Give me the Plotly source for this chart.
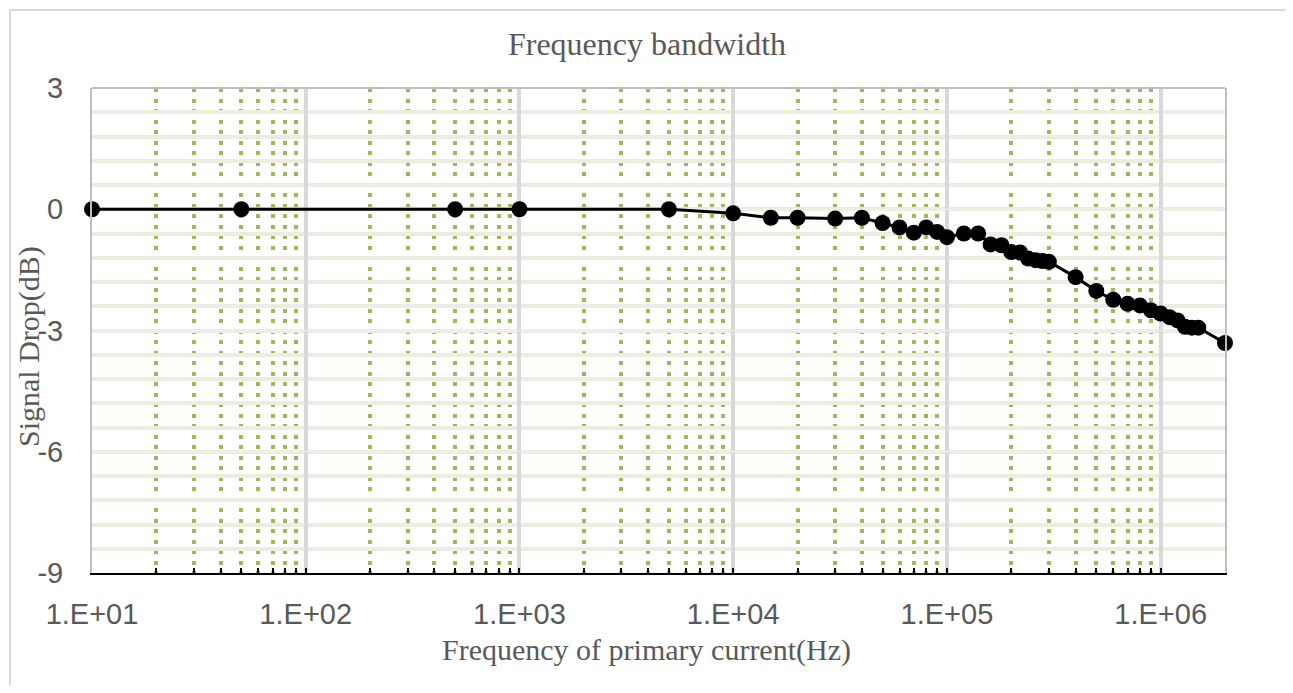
import plotly.graph_objects as go
import numpy as np

# ---- data ----
freq_hz = [10, 50, 500, 1000, 5000, 10000, 15000, 20000, 30000, 40000, 50000,
           60000, 70000, 80000, 90000, 100000, 120000, 140000, 160000, 180000,
           200000, 220000, 240000, 260000, 280000, 300000, 400000, 500000,
           600000, 700000, 800000, 900000, 1000000, 1100000, 1200000, 1300000,
           1400000, 1500000, 2000000]
drop_db = [0, 0, 0, 0, 0, -0.10, -0.21, -0.21, -0.23, -0.21, -0.34,
           -0.45, -0.58, -0.45, -0.56, -0.69, -0.60, -0.60, -0.87, -0.89,
           -1.06, -1.07, -1.22, -1.26, -1.28, -1.30, -1.68, -2.02,
           -2.24, -2.34, -2.38, -2.50, -2.58, -2.67, -2.75, -2.91,
           -2.93, -2.93, -3.31]

x_major_vals = [10, 100, 1000, 10000, 100000, 1000000]
x_major_text = ["1.E+01", "1.E+02", "1.E+03", "1.E+04", "1.E+05", "1.E+06"]
x_minor_vals = [m * d for d in [10, 100, 1000, 10000, 100000, 1000000]
                for m in range(2, 10) if m * d <= 2000000]
y_major_vals = [-9, -6, -3, 0, 3]
y_major_text = ["-9", "-6", "-3", "0", "3"]
y_minor_vals = [round(-9 + 0.6 * i, 1) for i in range(21)]

title_text = "Frequency bandwidth"
x_title = "Frequency of primary current(Hz)"
y_title = "Signal Drop(dB)"

# ---- layout (page coords; the page body adds an 8px offset) ----
OFF = 8
W, H = 1293 - OFF, 693 - 2 * OFF
PL, PR, PT, PB = 92, 1225, 88, 573          # plot area in page pixels
L, T = PL - OFF, PT - OFF
R = W - (PR - OFF)
B = H - (PB - OFF)
pw, ph = PR - PL, PB - PT
txt = "#595959"


def px(xp):
    return (xp - PL) / pw


def py(yp):
    return (PB - yp) / ph


fig = go.Figure()
fig.add_trace(go.Scatter(
    x=freq_hz, y=drop_db, mode="lines+markers",
    line=dict(color="black", width=3),
    marker=dict(color="black", size=16),
    showlegend=False, cliponaxis=False,
))

fig.update_layout(
    width=W, height=H,
    margin=dict(l=L, r=R, t=T, b=B),
    paper_bgcolor="white", plot_bgcolor="white",
    title=dict(text=title_text, x=px(647), xanchor="center", xref="paper",
               y=1 - 36 / H, yanchor="middle", yref="container",
               font=dict(family="Liberation Serif", size=32, color=txt)),
    xaxis=dict(
        type="log", range=[1, np.log10(2000000)],
        tickmode="array", tickvals=x_major_vals, ticktext=x_major_text,
        tickfont=dict(family="Liberation Sans", size=29, color=txt),
        ticks="inside", ticklen=5, tickwidth=2, tickcolor="black",
        showgrid=True, gridcolor="#D9D9D9", gridwidth=4,
        showline=True, linecolor="black", linewidth=2,
        ticklabelstandoff=14,
        zeroline=False,
        minor=dict(tickmode="array", tickvals=x_minor_vals,
                   ticks="inside", ticklen=5, tickwidth=2, tickcolor="black",
                   showgrid=True, gridcolor="#9BBB59", gridwidth=4,
                   griddash="4px,6.5px"),
    ),
    yaxis=dict(
        range=[-9, 3],
        tickmode="array", tickvals=y_major_vals, ticktext=y_major_text,
        tickfont=dict(family="Liberation Sans", size=29, color=txt),
        ticks="",
        showgrid=True, gridcolor="#F1F0EA", gridwidth=1,
        showline=True, linecolor="#BFBFBF", linewidth=2, mirror=True,
        ticklabelstandoff=21,
        zeroline=False,
        minor=dict(tickmode="array", tickvals=y_minor_vals, ticks="",
                   showgrid=True, gridcolor="#EEECE1", gridwidth=4),
    ),
)

# top border of plot area and outer chart border
fig.add_shape(type="line", xref="paper", yref="paper",
              x0=0, x1=1, y0=1, y1=1,
              line=dict(color="#BFBFBF", width=2), layer="above")
fig.add_shape(type="rect", xref="paper", yref="paper",
              x0=px(OFF + 2), x1=px(1291), y0=py(700), y1=py(OFF + 2),
              line=dict(color="#D9D9D9", width=2), layer="below")

# axis titles
fig.add_annotation(text=x_title, xref="paper", yref="paper",
                   x=px(646), y=py(650),
                   xanchor="center", yanchor="middle", showarrow=False,
                   font=dict(family="Liberation Serif", size=30, color=txt))
fig.add_annotation(text=y_title, xref="paper", yref="paper",
                   x=px(29), y=py(347),
                   xanchor="center", yanchor="middle", showarrow=False,
                   textangle=-90,
                   font=dict(family="Liberation Serif", size=30, color=txt))

fig.write_html("out.html")
